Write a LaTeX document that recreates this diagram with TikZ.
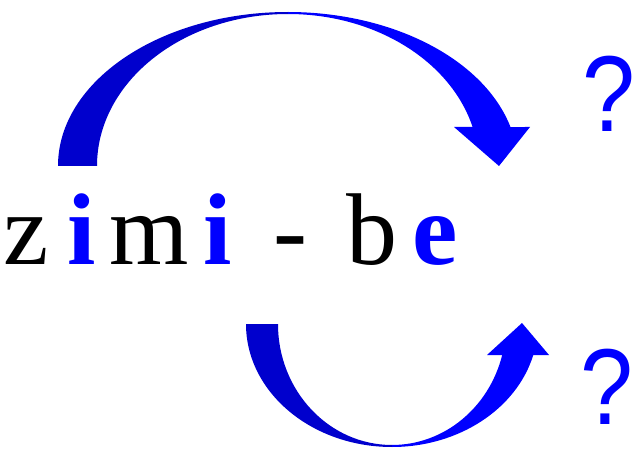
\documentclass[tikz,border=0pt]{standalone}
\usepackage{fontspec}
\setmainfont{Liberation Serif}
\newfontfamily\qfont{Liberation Sans}
\usepackage{tikz}
\usetikzlibrary{positioning,calc}
\definecolor{vblue}{RGB}{0,0,255}
\definecolor{vdark}{RGB}{0,0,205}
\tikzset{
  letter/.style={inner sep=0pt,anchor=base,font=\fontsize{102}{102}\selectfont},
  vowel/.style={letter,text=vblue,font=\fontsize{102}{102}\selectfont\bfseries},
  query/.style={inner sep=0pt,anchor=base,text=vblue,text depth=0pt,xscale=0.88,font=\qfont\fontsize{108}{108}\selectfont}
}
\begin{document}
\begin{tikzpicture}[x=1pt,y=1pt,line join=round]
      \useasboundingbox (0,0) rectangle (638,448);
      \node[letter] (z1) at (26.5,183) {z};
      \node[vowel] (i1) at (81.5,183) {i};
      \node[letter] (m1) at (149,183) {m};
      \node[vowel] (i2) at (217.5,183) {i};
      \node[letter] (dash) at (290,183) {-};
      \node[letter] (b1) at (372,183) {b};
      \node[vowel] (e1) at (435.5,183) {e};
      \node[query] (q1) at (609,316) {?};
      \node[query] (q2) at (607,24) {?};
      \coordinate (top) at (288,282);
      \coordinate (bot) at (392,124);
      \fill[vdark] (top) ++(-230,0) arc[start angle=180,end angle=90,x radius=230,y radius=154]
          -- ($(top)+(0,152)$) arc[start angle=90,end angle=180,x radius=191,y radius=152] -- cycle;
      \fill[vblue] (top) ++(0,154) arc[start angle=90,end angle=14.67,x radius=230,y radius=154]
          -- (530,321) -- (499,282) -- (454,321) -- (472.6,321)
          arc[start angle=14.87,end angle=90,x radius=191,y radius=152] -- cycle;
      \fill[vdark] (bot) ++(-146,0) arc[start angle=180,end angle=270,x radius=146,y radius=123]
          -- ($(bot)+(0,-121)$) arc[start angle=270,end angle=180,x radius=114,y radius=121] -- cycle;
      \fill[vblue] (bot) ++(0,-123) arc[start angle=270,end angle=345.4,x radius=146,y radius=123]
          -- (549,93) -- (522,125) -- (487,93) -- (502.2,93)
          arc[start angle=345.15,end angle=270,x radius=114,y radius=121] -- cycle;
    \end{tikzpicture}
\end{document}
